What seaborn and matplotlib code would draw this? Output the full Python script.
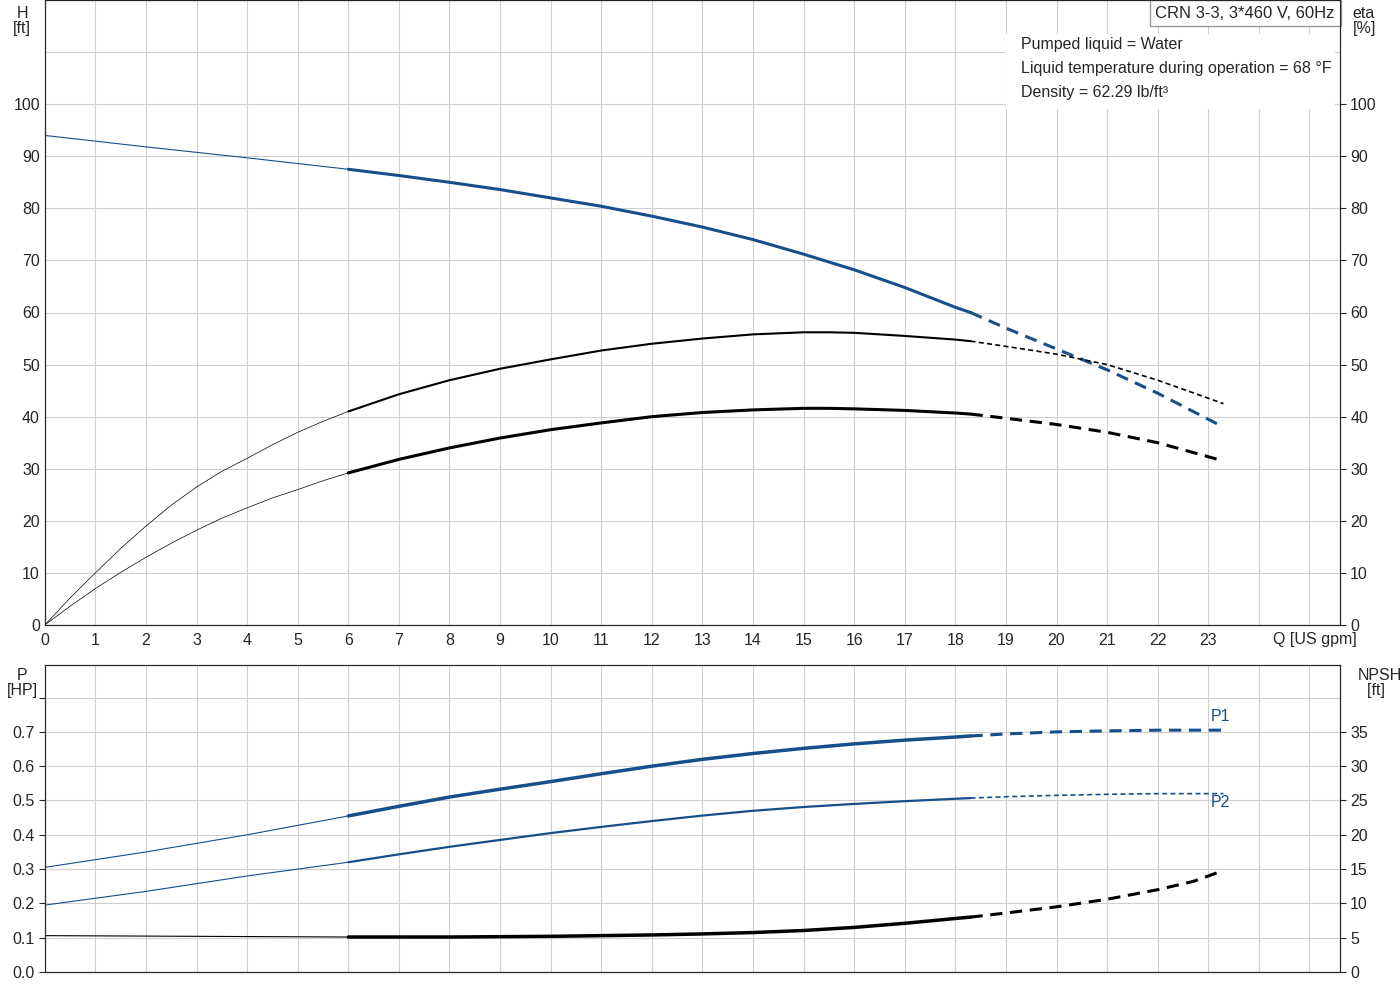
import matplotlib
matplotlib.use("Agg")
import matplotlib.pyplot as plt
import numpy as np
import pandas as pd
import seaborn as sns

sns.set_style("white")
plt.rcParams["font.family"] = ["Liberation Sans", "DejaVu Sans"]

BLUE = "#174f8a"

# head curve H [ft]
h_q = [0, 2, 4, 6, 7, 8, 9, 10, 11, 12, 13, 14, 15, 16, 17, 18, 18.3, 19, 20, 21, 22, 23.3]
h_v = [94, 91.8, 89.7, 87.5, 86.3, 85, 83.6, 82, 80.4, 78.5, 76.4, 74, 71.2, 68.2, 64.8, 61, 60,
       57, 53, 49, 44.5, 38]
# efficiency curves [%]
eta1_q = [0, 0.5, 1, 1.5, 2, 2.5, 3, 3.5, 4, 4.5, 5, 5.5, 6, 7, 8, 9, 10, 11, 12, 13, 14, 15,
          15.5, 16, 17, 18, 18.3, 19, 20, 21, 22, 23.3]
eta1_v = [0, 5.2, 10, 14.7, 19, 23, 26.5, 29.5, 32, 34.6, 37, 39.1, 41, 44.3, 47, 49.2, 51, 52.7,
          54, 55, 55.8, 56.2, 56.2, 56.1, 55.5, 54.8, 54.5, 53.5, 52, 50, 47, 42.5]
eta2_q = [0, 0.5, 1, 1.5, 2, 2.5, 3, 3.5, 4, 4.5, 5, 5.5, 6, 7, 8, 9, 10, 11, 12, 13, 14, 15,
          15.5, 16, 17, 18, 18.3, 19, 20, 21, 22, 23.3]
eta2_v = [0, 3.6, 7, 10.1, 13, 15.7, 18.2, 20.5, 22.5, 24.4, 26, 27.7, 29.2, 31.8, 34, 35.9, 37.5,
          38.8, 40, 40.8, 41.3, 41.6, 41.6, 41.5, 41.2, 40.7, 40.5, 39.7, 38.5, 37, 35, 31.5]
# power curves [HP]
p1_q = [0, 2, 4, 6, 7, 8, 9, 10, 11, 12, 13, 14, 15, 16, 17, 18, 18.3, 19, 20, 21, 22, 23.3]
p1_v = [0.305, 0.35, 0.40, 0.455, 0.483, 0.51, 0.533, 0.555, 0.578, 0.60, 0.62, 0.637, 0.652,
        0.665, 0.676, 0.685, 0.688, 0.694, 0.70, 0.703, 0.705, 0.705]
p2_q = [0, 2, 4, 6, 7, 8, 9, 10, 11, 12, 13, 14, 15, 16, 17, 18, 18.3, 19, 20, 21, 22, 23.3]
p2_v = [0.195, 0.235, 0.28, 0.32, 0.343, 0.365, 0.385, 0.405, 0.423, 0.44, 0.456, 0.47, 0.481,
        0.49, 0.498, 0.505, 0.507, 0.511, 0.515, 0.518, 0.52, 0.52]
# NPSH [ft]
npsh_q = [0, 3, 6, 8, 10, 12, 13, 14, 15, 16, 17, 18, 18.3, 19, 20, 21, 22, 22.7, 23.3]
npsh_v = [5.3, 5.2, 5.1, 5.1, 5.2, 5.4, 5.55, 5.75, 6.05, 6.5, 7.1, 7.8, 8.0, 8.6, 9.5, 10.6,
          12, 13.2, 14.8]

Q_MIN, Q_MAX = 6, 18.3


def draw(ax, q, v, color, lw_thin, lw_main, lw_dash, thin_dash=False):
    df = pd.DataFrame({"q": q, "v": v})
    lo = df[df.q <= Q_MIN]
    mid = df[(df.q >= Q_MIN) & (df.q <= Q_MAX)]
    hi = df[df.q >= Q_MAX]
    sns.lineplot(data=lo, x="q", y="v", ax=ax, color=color, lw=lw_thin, sort=False)
    sns.lineplot(data=mid, x="q", y="v", ax=ax, color=color, lw=lw_main, sort=False)
    sns.lineplot(data=hi, x="q", y="v", ax=ax, color=color, lw=lw_dash, sort=False,
                 linestyle=(0, (4, 2.5)) if not thin_dash else (0, (3, 2)))


def style(ax, ymax, yticks, rticks, rmax):
    ax.set_xlim(0, 25.6)
    ax.set_ylim(0, ymax)
    ax.set_xticks(range(0, 26))
    ax.grid(True, color="#d0d0d0", lw=0.8)
    ax.set_xlabel("")
    ax.set_ylabel("")
    for s in ["top", "right", "bottom", "left"]:
        ax.spines[s].set_color("#303030")
        ax.spines[s].set_linewidth(0.8)
    ax.set_yticks(yticks)
    ax.tick_params(labelsize=11.5, length=4)
    r = ax.twinx()
    r.set_ylim(0, rmax)
    r.set_yticks(rticks)
    r.tick_params(labelsize=11.5, length=4)
    return r


fig = plt.figure(figsize=(14, 10), dpi=100)
ax1 = fig.add_axes([0.032, 0.375, 0.925, 0.625])
ax2 = fig.add_axes([0.032, 0.028, 0.925, 0.307])

draw(ax1, h_q, h_v, BLUE, 0.8, 2.2, 2.2)
draw(ax1, eta1_q, eta1_v, "black", 0.5, 1.5, 1.2, thin_dash=True)
draw(ax1, eta2_q, eta2_v, "black", 0.5, 2.2, 2.2)
r1 = style(ax1, 120, range(0, 101, 10), range(0, 101, 10), 120)
ax1.set_yticks(range(0, 121, 10))
ax1.set_yticklabels([str(t) if t <= 100 else "" for t in range(0, 121, 10)])
ax1.set_xticklabels([str(t) if t <= 23 else "" for t in range(0, 26)])
ax1.tick_params(axis="y", length=0)
ax1.tick_params(axis="x", length=0, pad=6)
ax1.text(25.1, -1.4, "Q [US gpm]", ha="center", va="top", fontsize=11.5)
ax1.text(-0.45, 118.8, "H\n[ft]", ha="center", va="top", fontsize=11.5, linespacing=1.0)
ax1.text(25.85, 118.8, "eta\n[%]", ha="left", va="top", fontsize=11.5, linespacing=1.0,
         clip_on=False)
ax1.text(25.5, 117.5, "CRN 3-3, 3*460 V, 60Hz", ha="right", va="center", fontsize=12,
         bbox=dict(facecolor="white", edgecolor="#999999", boxstyle="square,pad=0.35"), zorder=5)
ax1.add_patch(plt.Rectangle((19, 99), 6.5, 14.5, facecolor="white", edgecolor="none", zorder=4))
for i, t in enumerate(["Pumped liquid = Water",
                       "Liquid temperature during operation = 68 °F",
                       "Density = 62.29 lb/ft³"]):
    ax1.text(19.3, 111.5 - i * 4.6, t, ha="left", va="center", fontsize=11.5, zorder=6)

draw(ax2, p1_q, p1_v, BLUE, 0.8, 2.5, 2.2)
draw(ax2, p2_q, p2_v, BLUE, 0.8, 1.6, 1.2, thin_dash=True)
r2 = style(ax2, 0.895, np.round(np.arange(0, 0.71, 0.1), 1), range(0, 36, 5), 0.895 * 50)
draw(r2, npsh_q, npsh_v, "black", 0.8, 2.5, 2.2)
ax2.set_yticks(np.round(np.arange(0, 0.81, 0.1), 1))
ax2.set_yticklabels([f"{t:.1f}" if t < 0.75 else "" for t in np.arange(0, 0.81, 0.1)])
ax2.set_xticklabels([])
ax2.tick_params(axis="x", length=0)
r2.set_ylabel("")
ax2.text(-0.45, 0.885, "P\n[HP]", ha="center", va="top", fontsize=11.5, linespacing=1.0)
ax2.text(25.95, 0.885, "NPSH\n  [ft]", ha="left", va="top", fontsize=11.5, linespacing=1.0,
         clip_on=False)
ax2.text(23.05, 0.745, "P1", color=BLUE, fontsize=11.5, va="center")
ax2.text(23.05, 0.495, "P2", color=BLUE, fontsize=11.5, va="center")

fig.savefig("out.png", dpi=100)
